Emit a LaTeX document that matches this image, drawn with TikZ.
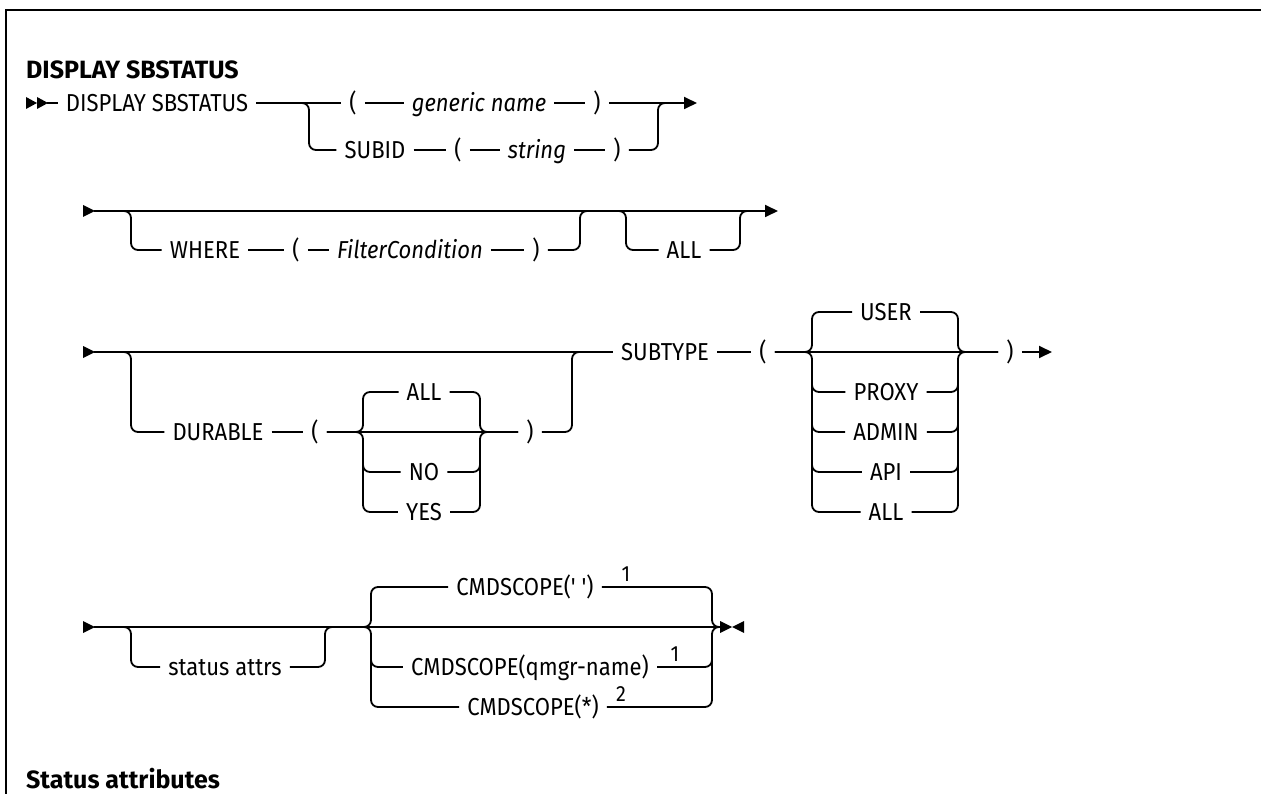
\documentclass[tikz,border=0pt]{standalone}
\usepackage{fontspec}
\newfontfamily\dgf{Fira Sans}[FakeStretch=0.9]
\newfontfamily\hdf{Fira Sans}
\usetikzlibrary{arrows.meta}
\begin{document}
\begin{tikzpicture}[x=1pt,y=-1pt,
  ln/.style={line width=1.8pt},
  rr/.style={line width=1.8pt,rounded corners=7pt},
  tok/.style={font=\dgf\fontsize{24.5}{28}\selectfont,inner xsep=8pt,inner ysep=0pt,text height=17pt,text depth=0pt,anchor=center},
  var/.style={tok,font=\dgf\itshape\fontsize{24.5}{28}\selectfont},
  supn/.style={font=\dgf\fontsize{22}{24}\selectfont,inner sep=0pt,anchor=south},
  hd/.style={font=\hdf\bfseries\fontsize{25}{30}\selectfont,inner sep=0pt,anchor=base west},
  tipend/.style={-{Triangle[length=13pt,width=12pt]}}
]
\useasboundingbox (0,0) rectangle (1261,794);
% frame
\draw[line width=2pt] (1261,10) -- (6,10) -- (6,794);
% headings
\node[hd] (title) at (26,79) {DISPLAY SBSTATUS};
\node[hd] (stat) at (26,788) {Status attributes};

% ---------- row 1 ----------
\fill (26,97) -- (37,103) -- (26,109) -- cycle;
\fill (37,97) -- (48,103) -- (37,109) -- cycle;
\coordinate (r1s) at (47,103);
\node[tok] (r1cmd) at (157,103) {DISPLAY SBSTATUS};
\node[tok] (r1op) at (353,103) {(};
\node[var] (r1gn) at (479,103) {generic name};
\node[tok] (r1cp) at (597,103) {)};
\coordinate (r1end) at (697,103);
\draw[ln] (r1s) -- (r1cmd);
\draw[ln] (r1cmd) -- (r1op) -- (r1gn) -- (r1cp);
\draw[ln,tipend] (r1cp) -- (r1end);
\coordinate (b1a) at (309,103); \coordinate (b1b) at (309,150);
\node[tok] (subid) at (375,150) {SUBID};
\node[tok] (r1bop) at (458,150) {(};
\node[var] (r1str) at (537,150) {string};
\node[tok] (r1bcp) at (617,150) {)};
\coordinate (b1c) at (658,150); \coordinate (b1d) at (658,103); \coordinate (b1e) at (672,103);
\draw[rr] (r1cmd) -- (b1a) -- (b1b) -- (subid);
\draw[ln] (subid) -- (r1bop) -- (r1str) -- (r1bcp);
\draw[rr] (r1bcp) -- (b1c) -- (b1d) -- (b1e);

% ---------- row 2 ----------
\fill (83,205) -- (95,211) -- (83,217) -- cycle;
\coordinate (r2s) at (94,211);
\coordinate (r2end) at (778,211);
\draw[ln,tipend] (r2s) -- (r2end);
\coordinate (b2a) at (131,211); \coordinate (b2b) at (131,250);
\node[tok] (where) at (205,250) {WHERE};
\node[tok] (r2op) at (296,250) {(};
\node[var] (filt) at (410,250) {FilterCondition};
\node[tok] (r2cp) at (536,250) {)};
\coordinate (b2c) at (580,250); \coordinate (b2d) at (580,211); \coordinate (b2e) at (594,211);
\draw[rr] (r2s) -- (b2a) -- (b2b) -- (where);
\draw[ln] (where) -- (r2op) -- (filt) -- (r2cp);
\draw[rr] (r2cp) -- (b2c) -- (b2d) -- (b2e);
\coordinate (b2f) at (612,211); \coordinate (b2g) at (626,211); \coordinate (b2h) at (626,250);
\node[tok] (r2all) at (684,250) {ALL};
\coordinate (b2i) at (740,250); \coordinate (b2j) at (740,211); \coordinate (b2k) at (754,211);
\draw[rr] (b2f) -- (b2g) -- (b2h) -- (r2all);
\draw[rr] (r2all) -- (b2i) -- (b2j) -- (b2k);

% ---------- row 3 ----------
\fill (83,346) -- (95,352) -- (83,358) -- cycle;
\coordinate (r3s) at (94,352);
\node[tok] (subt) at (665,352) {SUBTYPE};
\draw[ln] (r3s) -- (subt);
% durable branch
\coordinate (b3a) at (131,352); \coordinate (b3b) at (131,432);
\node[tok] (dur) at (218,432) {DURABLE};
\node[tok] (dop) at (315,432) {(};
\draw[rr] (r3s) -- (b3a) -- (b3b) -- (dur);
\draw[ln] (dur) -- (dop);
\coordinate (dL) at (363,432); \coordinate (dLu) at (363,392); \coordinate (dLd) at (363,512);
\coordinate (dLn1) at (363,460); \coordinate (dLn2) at (363,472);
\node[tok] (dall) at (424,392) {ALL};
\node[tok] (dno) at (424,472) {NO};
\node[tok] (dyes) at (424,512) {YES};
\coordinate (dR) at (480,432); \coordinate (dRu) at (480,392); \coordinate (dRd) at (480,512);
\coordinate (dRn1) at (480,460); \coordinate (dRn2) at (480,472);
\node[tok] (dcp) at (530,432) {)};
\draw[ln] (dop) -- (dcp);
\draw[rr] (dop) -- (dL) -- (dLu) -- (dall);
\draw[rr] (dop) -- (dL) -- (dLd) -- (dyes);
\draw[rr] (dLn1) -- (dLn2) -- (dno);
\draw[rr] (dall) -- (dRu) -- (dR) -- (dcp);
\draw[rr] (dyes) -- (dRd) -- (dR) -- (dcp);
\draw[rr] (dno) -- (dRn2) -- (dRn1);
\coordinate (b3c) at (572,432); \coordinate (b3d) at (572,352); \coordinate (b3e) at (586,352);
\draw[rr] (dcp) -- (b3c) -- (b3d) -- (b3e);
% subtype stack
\node[tok] (sop) at (763,352) {(};
\draw[ln] (subt) -- (sop);
\coordinate (sL) at (812,352); \coordinate (sLu) at (812,312); \coordinate (sLd) at (812,512);
\node[tok] (suser) at (886,312) {USER};
\node[tok] (sproxy) at (886,392) {PROXY};
\node[tok] (sadmin) at (886,432) {ADMIN};
\node[tok] (sapi) at (886,472) {API};
\node[tok] (sall) at (886,512) {ALL};
\coordinate (sR) at (958,352); \coordinate (sRu) at (958,312); \coordinate (sRd) at (958,512);
\node[tok] (scp) at (1010,352) {)};
\coordinate (r3end) at (1052,352);
\draw[ln] (sop) -- (scp);
\draw[ln,tipend] (scp) -- (r3end);
\draw[rr] (sop) -- (sL) -- (sLu) -- (suser);
\draw[rr] (sop) -- (sL) -- (sLd) -- (sall);
\draw[rr] (812,380) -- (812,392) -- (sproxy);
\draw[rr] (812,420) -- (812,432) -- (sadmin);
\draw[rr] (812,460) -- (812,472) -- (sapi);
\draw[rr] (suser) -- (sRu) -- (sR) -- (scp);
\draw[rr] (sall) -- (sRd) -- (sR) -- (scp);
\draw[rr] (sproxy) -- (958,392) -- (958,380);
\draw[rr] (sadmin) -- (958,432) -- (958,420);
\draw[rr] (sapi) -- (958,472) -- (958,460);

% ---------- row 4 ----------
\fill (83,621) -- (95,627) -- (83,633) -- cycle;
\coordinate (r4s) at (94,627);
\coordinate (r4e) at (721,627);
\draw[ln] (r4s) -- (r4e);
\fill (720,621) -- (732,627) -- (720,633) -- cycle;
\fill (744,621) -- (732,627) -- (744,633) -- cycle;
\coordinate (b4a) at (131,627); \coordinate (b4b) at (131,667);
\node[tok] (sattr) at (225,667) {status attrs};
\coordinate (b4c) at (325,667); \coordinate (b4d) at (325,627); \coordinate (b4e) at (339,627);
\draw[rr] (r4s) -- (b4a) -- (b4b) -- (sattr);
\draw[rr] (sattr) -- (b4c) -- (b4d) -- (b4e);
\coordinate (cL) at (371,627); \coordinate (cLu) at (371,587); \coordinate (cLd) at (371,707);
\coordinate (cR) at (712,627); \coordinate (cRu) at (712,587); \coordinate (cRd) at (712,707);
\coordinate (cA) at (357,627); \coordinate (cB) at (722,627);
\node[tok] (cmd1) at (525,587) {CMDSCOPE(' ')};
\node[tok] (cmd2) at (530,667) {CMDSCOPE(qmgr-name)};
\node[tok] (cmd3) at (533,707) {CMDSCOPE(*)};
\node[supn] (n1) at (626,582) {1};
\node[supn] (n2) at (675,662) {1};
\node[supn] (n3) at (621,702) {2};
\draw[rr] (cA) -- (cL) -- (cLu) -- (cmd1);
\draw[rr] (cA) -- (cL) -- (cLd) -- (cmd3);
\draw[rr] (371,655) -- (371,667) -- (cmd2);
\draw[rr] (cmd1) -- (cRu) -- (cR) -- (cB);
\draw[rr] (cmd3) -- (cRd) -- (cR) -- (cB);
\draw[rr] (cmd2) -- (712,667) -- (712,655);
\end{tikzpicture}
\end{document}
